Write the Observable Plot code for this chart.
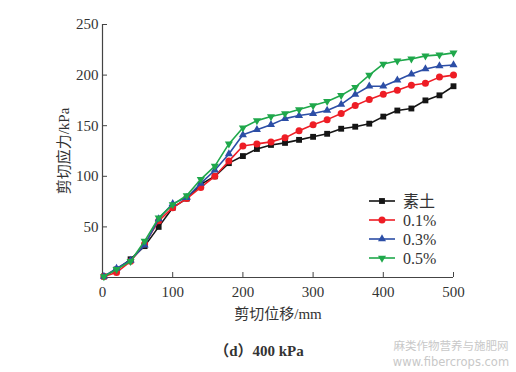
<!DOCTYPE html>
<html><head><meta charset="utf-8">
<script src="https://cdn.jsdelivr.net/npm/d3@7"></script>
<script src="https://cdn.jsdelivr.net/npm/@observablehq/plot@0.6"></script>
<style>body{margin:0;background:#fff}</style>
</head><body><div id="chart"></div>
<script>
const displacement = [2,20,40,60,80,100,120,140,160,180,200,220,240,260,280,300,320,340,360,380,400,420,440,460,480,500];
const soil  = [1,8,18,31,50,69,78,92,100,113,120,127,131,133,136,139,142,147,149,152,159,165,167,175,180,189];
const p01   = [1,5,16,33,56,69,78,89,100,115,130,132,134,138,145,151,156,162,170,176,181,185,190,192,198,200];
const p03   = [1,9,17,32,58,73,79,93,106,122,141,146,151,157,160,162,165,171,181,189,189,195,201,206,209,210];
const p05   = [1,8,16,36,59,72,81,97,110,132,148,155,159,162,166,170,174,180,188,200,211,214,216,219,220,222];
const seriesNames = ["素土","0.1%","0.3%","0.5%"];
const seriesValues = [soil,p01,p03,p05];
const colors = ["#151515","#ee1d25","#2c4ea6","#1fa84b"];
const xTicks = [0,100,200,300,400,500];
const yTicks = [50,100,150,200,250];

const triangleDown = {draw(ctx, size){const y=-Math.sqrt(size/(Math.sqrt(3)*3)); const s=Math.sqrt(3); ctx.moveTo(0,-y*2); ctx.lineTo(-s*y,y); ctx.lineTo(s*y,y); ctx.closePath();}};
const symbols = ["square","circle","triangle",triangleDown];
const radii = [3.3,3.5,3.0,3.0];

const data = seriesNames.flatMap((name,k)=>displacement.map((x,i)=>({name,k,x,y:seriesValues[k][i]})));

const serif = "'Liberation Serif','Noto Sans CJK SC',serif";
const marks = [];
seriesNames.forEach((name,k)=>{
  const d = data.filter(r=>r.k===k);
  marks.push(Plot.line(d,{x:"x",y:"y",stroke:colors[k],strokeWidth:1.6}));
  marks.push(Plot.dot(d,{x:"x",y:"y",fill:colors[k],stroke:"none",symbol:()=>symbols[k],r:radii[k]}));
});

const plot = Plot.plot({
  width:516, height:372,
  marginLeft:102, marginRight:63, marginTop:24, marginBottom:95,
  style:{fontFamily:serif, fontSize:"15px", color:"#333", background:"#fff"},
  x:{domain:[0,500]},
  y:{domain:[0,250]},
  marks:[
    Plot.ruleY([0],{stroke:"#444",strokeWidth:1.2}),
    Plot.ruleX([0],{stroke:"#444",strokeWidth:1.2}),
    Plot.axisX(xTicks,{tickSize:-5,tickPadding:14,stroke:"#444",fill:"#333",label:"剪切位移/mm",labelAnchor:"center",labelOffset:41,labelArrow:false}),
    Plot.axisY(yTicks,{tickSize:-5,tickPadding:9,stroke:"#444",fill:"#333",label:"剪切应力/kPa",labelAnchor:"center",labelOffset:44,labelArrow:false}),
    ...marks
  ]
});
document.getElementById("chart").appendChild(plot);

const svg = d3.select(plot);
const lg = svg.append("g").attr("text-anchor","start");
seriesNames.forEach((name,k)=>{
  const yy = 201 + k*19;
  lg.append("line").attr("x1",369).attr("x2",395).attr("y1",yy).attr("y2",yy).attr("stroke",colors[k]).attr("stroke-width",1.6);
  lg.append("path").attr("transform",`translate(382,${yy})`).attr("fill",colors[k])
    .attr("d",d3.symbol(typeof symbols[k]==="string"?{square:d3.symbolSquare,circle:d3.symbolCircle,triangle:d3.symbolTriangle}[symbols[k]]:symbols[k], Math.PI*radii[k]*radii[k])());
  lg.append("text").attr("x",403).attr("y",yy).attr("dy","0.35em").attr("text-anchor","start").attr("font-size",16).attr("fill","#333").text(name);
});
svg.append("text").attr("x",259).attr("y",351).attr("dy","0.35em").attr("text-anchor","middle").attr("font-weight","bold").attr("font-size",15).attr("fill","#333").text("（d）400 kPa");
svg.append("text").attr("x",451).attr("y",346).attr("dy","0.35em").attr("text-anchor","middle").attr("font-family","'Noto Sans CJK SC',sans-serif").attr("font-size",11.5).attr("fill","#c8c8c8").text("麻类作物营养与施肥网");
svg.append("text").attr("x",451).attr("y",362).attr("dy","0.35em").attr("text-anchor","middle").attr("font-family","'DejaVu Sans',sans-serif").attr("font-size",11.5).attr("fill","#c8c8c8").text("www.fibercrops.com");
</script></body></html>
